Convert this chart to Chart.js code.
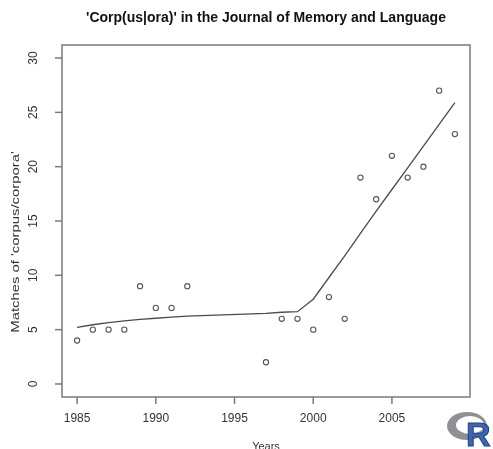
<!DOCTYPE html>
<html>
<head>
<meta charset="utf-8">
<script src="https://cdn.jsdelivr.net/npm/chart.js@4"></script>
<style>
  html, body { margin: 0; padding: 0; background: #fff; }
  .chart-container { width: 493px; height: 449px; position: relative; }
</style>
</head>
<body>
<div class="chart-container">
  <canvas id="corpora"></canvas>
</div>
<script>
// observed counts per year
const years = [1985, 1986, 1987, 1988, 1989, 1990, 1991, 1992, 1997, 1998, 1999,
               2000, 2001, 2002, 2003, 2004, 2005, 2006, 2007, 2008, 2009];
const matches = [4, 5, 5, 5, 9, 7, 7, 9, 2, 6, 6,
                 5, 8, 6, 19, 17, 21, 19, 20, 27, 23];
// smoothed (lowess) curve at the same years
const smooth = [5.2, 5.45, 5.65, 5.8, 5.95, 6.05, 6.15, 6.25, 6.5, 6.6, 6.65,
                7.8, 9.8, 11.8, 13.85, 15.9, 17.9, 19.9, 21.9, 23.9, 25.9];

const xTicks = [1985, 1990, 1995, 2000, 2005];
const yTicks = [0, 5, 10, 15, 20, 25, 30];

const titleText = "'Corp(us|ora)' in the Journal of Memory and Language";
const xTitle = 'Years';
const yTitle = "Matches of 'corpus/corpora'";

const FONT = 'Liberation Sans, Arial, Helvetica, sans-serif';

// R style box, ticks, labels and the logo
const rAxes = {
  id: 'rAxes',
  afterDraw(chart) {
    const ctx = chart.ctx;
    const area = chart.chartArea;
    const xs = chart.scales.x;
    const ys = chart.scales.y;
    ctx.save();

    ctx.strokeStyle = '#7a7a7a';
    ctx.lineWidth = 1.5;
    ctx.strokeRect(area.left, area.top, area.right - area.left, area.bottom - area.top);

    ctx.fillStyle = '#333';
    ctx.font = '12px ' + FONT;

    // x ticks
    ctx.textAlign = 'center';
    ctx.textBaseline = 'middle';
    xTicks.forEach(v => {
      const px = xs.getPixelForValue(v);
      ctx.beginPath();
      ctx.moveTo(px, area.bottom);
      ctx.lineTo(px, area.bottom + 7);
      ctx.stroke();
      ctx.fillText(String(v), px, area.bottom + 22);
    });

    // y ticks, labels rotated like R
    yTicks.forEach(v => {
      const py = ys.getPixelForValue(v);
      ctx.beginPath();
      ctx.moveTo(area.left, py);
      ctx.lineTo(area.left - 7, py);
      ctx.stroke();
      ctx.save();
      ctx.translate(area.left - 28, py);
      ctx.rotate(-Math.PI / 2);
      ctx.fillText(String(v), 0, 0);
      ctx.restore();
    });

    ctx.font = '11px ' + FONT;
    ctx.fillText(xTitle, (area.left + area.right) / 2, area.bottom + 50);
    ctx.save();
    ctx.translate(16, 242);
    ctx.rotate(-Math.PI / 2);
    ctx.scale(1.35, 1);
    ctx.fillText(yTitle, 0, 0);
    ctx.restore();

    ctx.font = 'bold 14px ' + FONT;
    ctx.fillStyle = '#111';
    ctx.fillText(titleText, (area.left + area.right) / 2, 18);

    // R logo
    const lx = 467, ly = 426;
    ctx.beginPath();
    ctx.ellipse(lx, ly, 20, 14, 0, 0, Math.PI * 2);
    ctx.ellipse(lx + 3, ly - 1, 14, 9, 0, 0, Math.PI * 2, true);
    ctx.fillStyle = '#8e9096';
    ctx.fill('evenodd');
    ctx.font = 'bold 34px ' + FONT;
    ctx.fillStyle = '#3a66b3';
    ctx.strokeStyle = '#23407a';
    ctx.lineWidth = 1;
    ctx.textAlign = 'left';
    ctx.textBaseline = 'alphabetic';
    ctx.fillText('R', 466, 446);
    ctx.strokeText('R', 466, 446);

    ctx.restore();
  }
};

const data = {
  datasets: [
    {
      type: 'scatter',
      label: 'matches',
      data: years.map((y, i) => ({ x: y, y: matches[i] })),
      pointStyle: 'circle',
      pointRadius: 2.6,
      pointBorderWidth: 1.1,
      pointBorderColor: '#555',
      pointBackgroundColor: 'rgba(0,0,0,0)',
      showLine: false
    },
    {
      type: 'line',
      label: 'lowess',
      data: years.map((y, i) => ({ x: y, y: smooth[i] })),
      borderColor: '#4a4a4a',
      borderWidth: 1.3,
      pointRadius: 0,
      fill: false,
      tension: 0
    }
  ]
};

const config = {
  type: 'scatter',
  data: data,
  options: {
    animation: false,
    responsive: true,
    maintainAspectRatio: false,
    layout: {
      padding: { left: 62, right: 23, top: 45, bottom: 52 }
    },
    scales: {
      x: { type: 'linear', min: 1984.04, max: 2009.96, display: false },
      y: { type: 'linear', min: -1.2, max: 31.2, display: false }
    },
    plugins: {
      legend: { display: false },
      tooltip: { enabled: false }
    }
  },
  plugins: [rAxes]
};

new Chart(document.getElementById('corpora'), config);
</script>
</body>
</html>
